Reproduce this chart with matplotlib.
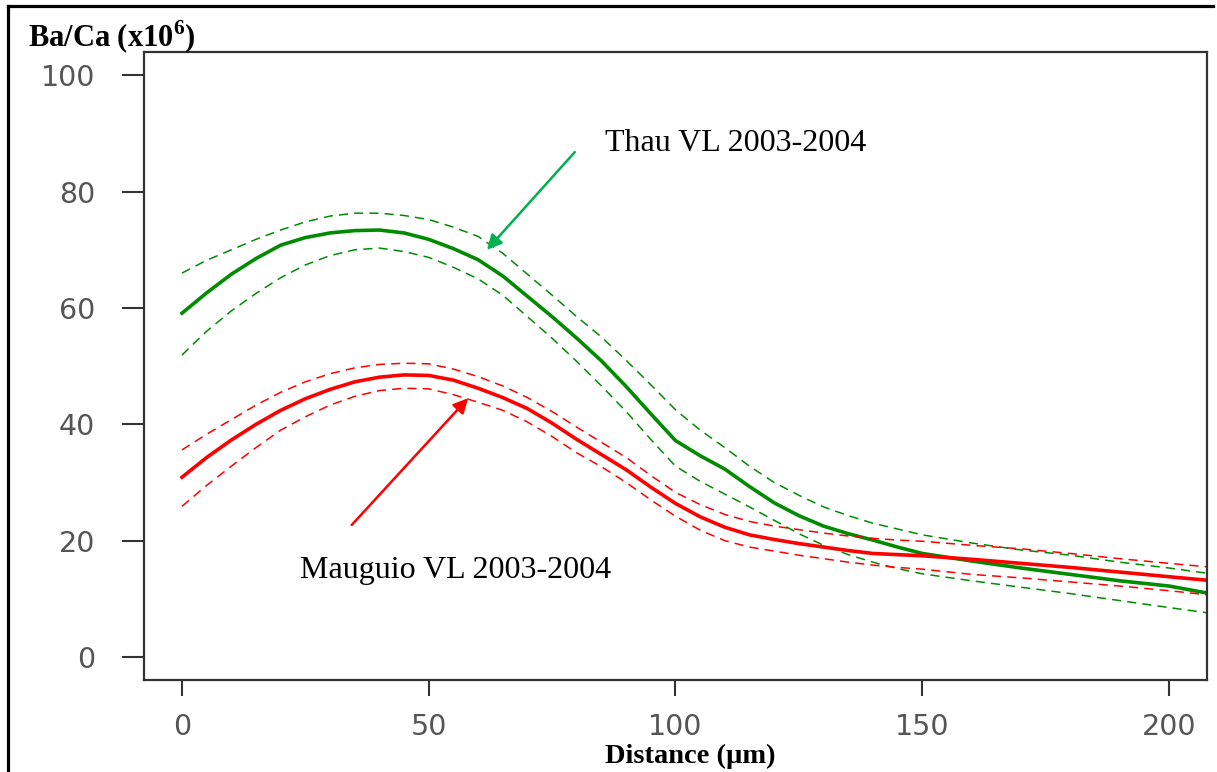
import numpy as np
import matplotlib
matplotlib.use("Agg")
import matplotlib.pyplot as plt
from matplotlib.lines import Line2D

plt.rcParams["mathtext.fontset"] = "custom"
plt.rcParams["mathtext.bf"] = "Liberation Serif:bold"
plt.rcParams["mathtext.rm"] = "Liberation Serif"

# distance (µm)
dist = [0, 5, 10, 15, 20, 25, 30, 35, 40, 45, 50, 55, 60, 65, 70, 75, 80, 85, 90, 95,
        100, 105, 110, 115, 120, 125, 130, 135, 140, 145, 150,
        160, 170, 180, 190, 200, 207.7]

# Thau VL 2003-2004
thau_mean = [59.1, 62.6, 65.8, 68.5, 70.8, 72.1, 72.9, 73.3, 73.4, 72.9, 71.8, 70.2,
             68.3, 65.5, 62.0, 58.5, 54.8, 50.9, 46.5, 41.8, 37.2, 34.6, 32.3, 29.3,
             26.5, 24.3, 22.5, 21.2, 20.1, 18.9, 17.8,
             16.5, 15.3, 14.2, 13.1, 12.2, 11.0]
thau_up = [66.0, 68.2, 70.0, 71.8, 73.4, 74.8, 75.8, 76.3, 76.3, 75.9, 75.2, 73.9,
           72.3, 69.4, 65.8, 62.2, 58.5, 55.0, 51.0, 46.8, 42.5, 39.0, 36.0, 32.8,
           30.0, 27.8, 25.8, 24.3, 23.0, 22.0, 21.0,
           19.6, 18.4, 17.5, 16.3, 15.3, 14.4]
thau_lo = [51.9, 56.0, 59.5, 62.5, 65.2, 67.4, 69.0, 70.0, 70.3, 69.7, 68.7, 67.0,
           65.0, 62.2, 58.5, 54.8, 50.8, 46.6, 42.2, 37.4, 32.8, 30.2, 28.0, 25.8,
           23.5, 21.2, 19.2, 17.6, 16.3, 15.2, 14.3,
           13.1, 12.0, 10.9, 9.7, 8.5, 7.6]

# Mauguio VL 2003-2004
maug_mean = [30.9, 34.3, 37.3, 40.0, 42.4, 44.4, 46.0, 47.3, 48.1, 48.5, 48.4, 47.6,
             46.2, 44.6, 42.7, 40.2, 37.4, 34.8, 32.2, 29.2, 26.4, 24.1, 22.3, 21.0,
             20.2, 19.5, 18.9, 18.3, 17.8, 17.6, 17.4,
             16.8, 16.1, 15.4, 14.6, 13.8, 13.2]
maug_up = [35.6, 38.3, 40.8, 43.3, 45.5, 47.3, 48.7, 49.7, 50.3, 50.5, 50.4, 49.5,
           48.2, 46.6, 44.6, 42.2, 39.5, 36.9, 34.3, 31.2, 28.3, 26.2, 24.5, 23.3,
           22.5, 21.9, 21.3, 20.8, 20.4, 20.1, 19.9,
           19.2, 18.6, 17.8, 16.9, 16.1, 15.5]
maug_lo = [25.9, 29.5, 32.8, 36.0, 39.0, 41.3, 43.3, 44.8, 45.8, 46.2, 46.1, 45.1,
           43.8, 42.4, 40.4, 37.9, 35.1, 32.7, 30.0, 27.0, 24.2, 21.8, 20.0, 18.9,
           18.2, 17.5, 16.9, 16.3, 15.8, 15.4, 15.1,
           14.2, 13.6, 12.9, 12.2, 11.4, 10.7]

green = "#008B00"
red = "#FF0000"

fig = plt.figure(figsize=(12.17, 7.72), dpi=100)
ax = fig.add_axes([0.1183, 0.1192, 0.8735, 0.8134])

ax.plot(dist, thau_up, color=green, lw=1.1, dashes=(6, 4))
ax.plot(dist, thau_lo, color=green, lw=1.1, dashes=(6, 4))
ax.plot(dist, thau_mean, color=green, lw=2.6)
ax.plot(dist, maug_up, color=red, lw=1.1, dashes=(6, 4))
ax.plot(dist, maug_lo, color=red, lw=1.1, dashes=(6, 4))
ax.plot(dist, maug_mean, color=red, lw=2.6)

ax.set_xlim(-7.7, 207.7)
ax.set_ylim(-3.95, 104)
ax.set_xticks([0, 50, 100, 150, 200])
ax.set_yticks([0, 20, 40, 60, 80, 100])
ax.tick_params(axis="y", length=16, width=1.5, pad=19, labelsize=20.5,
               colors="#333333", labelcolor="#555555")
ax.tick_params(axis="x", length=11.5, width=1.5, pad=12, labelsize=20.5,
               colors="#333333", labelcolor="#555555")
for s in ax.spines.values():
    s.set_linewidth(1.6)
    s.set_color("#333333")

# annotations
ax.annotate("", xy=(61.8, 70.0), xytext=(79.6, 86.8),
            arrowprops=dict(arrowstyle="-|>", color="#00B050", lw=1.8,
                            mutation_scale=22, shrinkA=0, shrinkB=0))
ax.text(85.7, 88.3, "Thau VL 2003-2004", fontsize=23, family="Liberation Serif",
        va="center", ha="left")
ax.annotate("", xy=(58.0, 44.5), xytext=(34.4, 22.7),
            arrowprops=dict(arrowstyle="-|>", color=red, lw=1.8,
                            mutation_scale=22, shrinkA=0, shrinkB=0))
ax.text(23.9, 14.8, "Mauguio VL 2003-2004", fontsize=23, family="Liberation Serif",
        va="center", ha="left")

# axis titles
fig.text(0.023, 0.952, r"Ba/Ca (x10$^{\mathbf{6}}$)", fontsize=22,
         family="Liberation Serif", weight="bold", ha="left", va="center")
fig.text(0.567, 0.004, "Distance (µm)", fontsize=20.5,
         family="Liberation Serif", weight="bold", ha="center", va="bottom")

# outer frame (top and left edges)
fig.add_artist(Line2D([0.0066, 0.9967], [0.9922, 0.9922], transform=fig.transFigure,
                      color="black", lw=2.3))
fig.add_artist(Line2D([0.0066, 0.0066], [0.9922, 0.0], transform=fig.transFigure,
                      color="black", lw=2.3))

fig.savefig("out.png", dpi=100)
